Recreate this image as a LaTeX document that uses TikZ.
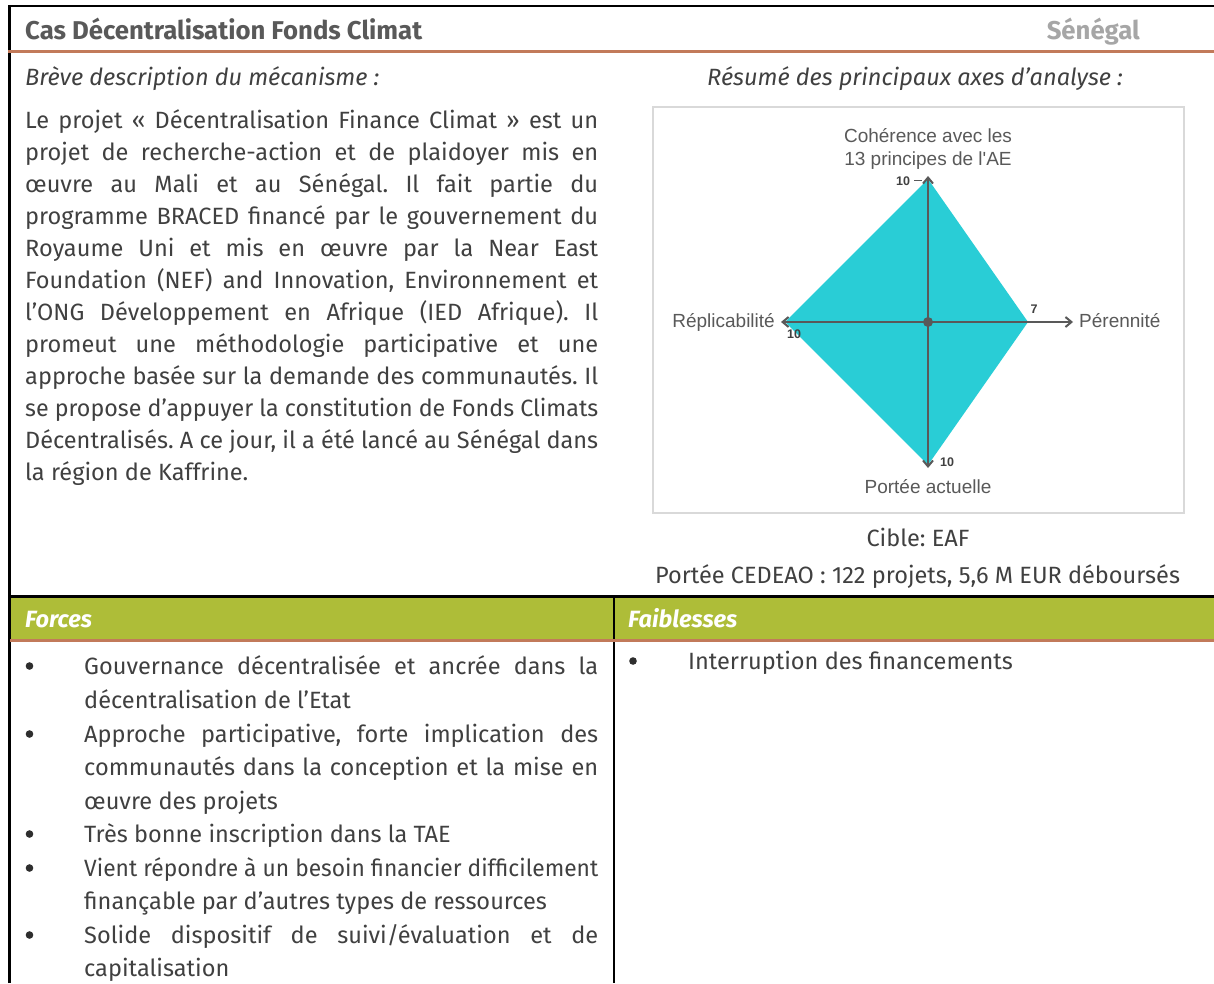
\documentclass[tikz,border=0pt]{standalone}
\usepackage{fontspec}
\usepackage{graphicx}
\setmainfont{Fira Sans}
\newfontfamily\chartf{Liberation Sans}
\usetikzlibrary{arrows.meta}
\frenchspacing
\definecolor{txt}{HTML}{404040}
\definecolor{ttl}{HTML}{595959}
\definecolor{lgray}{HTML}{A6A6A6}
\definecolor{brn}{HTML}{C27A5A}
\definecolor{olive}{HTML}{AEBD38}
\definecolor{diam}{HTML}{29CDD6}
\definecolor{axisc}{HTML}{595959}
\definecolor{boxg}{HTML}{D9D9D9}
\definecolor{bul}{HTML}{2E2E2E}
\newlength\calw
\newlength\tmpw
\newcommand\jl[2]{\settowidth\tmpw{#2}\ifdim\tmpw>#1\relax\resizebox{#1}{\height}{#2}\else\makebox[#1][s]{#2}\fi}
\newcommand\bfz{\fontsize{\bs pt}{\bs pt}\selectfont\frenchspacing}
\newcommand\tfz{\fontsize{\ts pt}{\ts pt}\selectfont}
\AtBeginDocument{%
\settowidth\calw{\fontsize{10pt}{12pt}\selectfont Portée CEDEAO : 122 projets, 5,6 M EUR déboursés}%
\pgfmathsetmacro\bs{10*525/\calw}%
\global\let\bs\bs
\settowidth\calw{\fontsize{10pt}{12pt}\selectfont\bfseries Cas Décentralisation Fonds Climat}%
\pgfmathsetmacro\ts{10*397/\calw}%
\global\let\ts\ts}
\begin{document}
\begin{tikzpicture}[x=1pt,y=-1pt,
  body/.style={font=\bfz, text=txt, inner sep=0pt, anchor=base west},
  ttlsty/.style={font=\tfz\bfseries, text=ttl, inner sep=0pt, anchor=base west},
  chart/.style={font=\chartf\fontsize{19pt}{19pt}\selectfont, text=axisc, inner sep=0pt},
  num/.style={font=\chartf\bfseries\fontsize{12.5pt}{12.5pt}\selectfont, text=txt, inner sep=0pt},
  axisline/.style={draw=axisc, line width=2pt, -{Straight Barb[length=6pt,width=10pt]}},
  frame/.style={draw=black, line width=2.5pt},
  brline/.style={draw=brn, line width=3pt}]
\useasboundingbox (0,0) rectangle (1214,983);
\fill[white] (0,0) rectangle (1214,983);

% frame and bands
\fill[olive] (10,597) rectangle (1214,639);
\draw[frame] (9.5,983) -- (9.5,6) -- (1214,6);
\draw[frame] (8,596.5) -- (1214,596.5);
\draw[draw=black, line width=2pt] (613.5,597) -- (613.5,983);
\draw[brline] (8,51.5) -- (1214,51.5);
\draw[brline] (10,640) -- (1214,640);

% header
\node[ttlsty] (title) at (25,39) {Cas Décentralisation Fonds Climat};
\node[ttlsty, text=lgray, anchor=base east] (pays) at (1140,39) {Sénégal};

% description
\node[body, font=\bfz\itshape] (desc) at (25,85) {Brève description du mécanisme :};
\node[body] (p1) at (25,128) {\jl{573pt}{Le projet « Décentralisation Finance Climat » est un}};
\node[body] (p2) at (25,160) {\jl{573pt}{projet de recherche-action et de plaidoyer mis en}};
\node[body] (p3) at (25,192) {\jl{573pt}{œuvre au Mali et au Sénégal. Il fait partie du}};
\node[body] (p4) at (25,224) {\jl{573pt}{programme BRACED financé par le gouvernement du}};
\node[body] (p5) at (25,256) {\jl{573pt}{Royaume Uni et mis en œuvre par la Near East}};
\node[body] (p6) at (25,288) {\jl{573pt}{Foundation (NEF) and Innovation, Environnement et}};
\node[body] (p7) at (25,320) {\jl{573pt}{l’ONG Développement en Afrique (IED Afrique). Il}};
\node[body] (p8) at (25,352) {\jl{573pt}{promeut une méthodologie participative et une}};
\node[body] (p9) at (25,384) {\jl{573pt}{approche basée sur la demande des communautés. Il}};
\node[body] (p10) at (25,416) {\jl{573pt}{se propose d’appuyer la constitution de Fonds Climats}};
\node[body] (p11) at (25,448) {\jl{573pt}{Décentralisés. A ce jour, il a été lancé au Sénégal dans}};
\node[body] (p12) at (25,480) {la région de Kaffrine.};

% right column header texts
\node[body, font=\bfz\itshape, anchor=base] (res) at (915,85) {Résumé des principaux axes d’analyse :};
\node[body, anchor=base] (cible) at (918,546) {Cible: EAF};
\node[body, anchor=base] (portee) at (917.5,583) {Portée CEDEAO : 122 projets, 5,6 M EUR déboursés};

% chart
\draw[draw=boxg, line width=2pt] (653,107) rectangle (1184,513);
\coordinate (c) at (928,322);
\coordinate (vT) at (928,179);
\coordinate (vR) at (1028,322);
\coordinate (vB) at (928,465);
\coordinate (vL) at (785,322);
\fill[diam] (vT) -- (vR) -- (vB) -- (vL) -- cycle;
\coordinate (aT) at (928,176);
\coordinate (aB) at (928,468);
\coordinate (aL) at (781,322);
\coordinate (aR) at (1073,322);
\draw[axisline] (c) -- (aT);
\draw[axisline] (c) -- (aB);
\draw[axisline] (c) -- (aL);
\draw[axisline] (c) -- (aR);
\fill[axisc] (c) circle (5);
\coordinate (d1) at (914,180);
\coordinate (d2) at (922,180);
\draw[axisc, line width=1pt] (d1) -- (d2);
\node[chart, anchor=base] (coh1) at (928,142) {Cohérence avec les};
\node[chart, anchor=base] (coh2) at (928,165) {13 principes de l'AE};
\node[chart, anchor=base east] (repl) at (775,327) {Réplicabilité};
\node[chart, anchor=base west] (pere) at (1079,327) {Pérennité};
\node[chart, anchor=base] (port) at (928,493) {Portée actuelle};
\node[num] (nT) at (903,181) {10};
\node[num] (nR) at (1034,309) {7};
\node[num] (nL) at (794,334) {10};
\node[num] (nB) at (947,462) {10};

% forces / faiblesses headings
\node[body, font=\bfz\bfseries\itshape, text=white] (forces) at (25,627) {Forces};
\node[body, font=\bfz\bfseries\itshape, text=white] (faib) at (628,627) {Faiblesses};

% forces list
\foreach \yy in {666,734,834,868,935} \fill[bul] (29.5,\yy) circle (3.8);
\node[body] (f1) at (84,674) {\jl{514pt}{Gouvernance décentralisée et ancrée dans la}};
\node[body] (f2) at (84,708) {décentralisation de l’Etat};
\node[body] (f3) at (84,742) {\jl{514pt}{Approche participative, forte implication des}};
\node[body] (f4) at (84,775) {\jl{514pt}{communautés dans la conception et la mise en}};
\node[body] (f5) at (84,809) {œuvre des projets};
\node[body] (f6) at (84,842) {Très bonne inscription dans la TAE};
\node[body] (f7) at (84,876) {\jl{514pt}{Vient répondre à un besoin financier difficilement}};
\node[body] (f8) at (84,909) {finançable par d’autres types de ressources};
\node[body] (f9) at (84,943) {\jl{514pt}{Solide dispositif de suivi/évaluation et de}};
\node[body] (f10) at (84,976) {capitalisation};

% faiblesses list
\fill[bul] (633,661) circle (3.8);
\node[body] (w1) at (688,669) {Interruption des financements};
\end{tikzpicture}
\end{document}
